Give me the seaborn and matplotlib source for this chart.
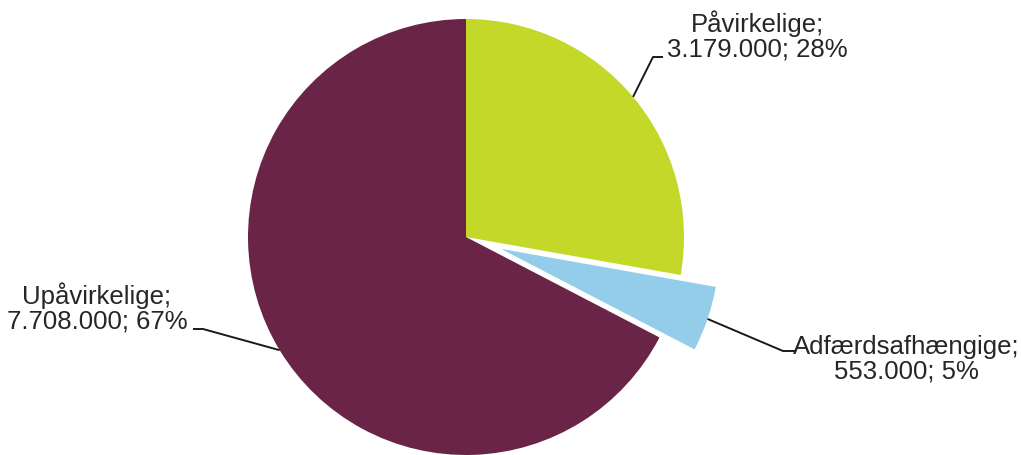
import numpy as np
import matplotlib
matplotlib.use("Agg")
import matplotlib.pyplot as plt
import seaborn as sns

# data
labels = ['Påvirkelige', 'Adfærdsafhængige', 'Upåvirkelige']
values = [3179000, 553000, 7708000]
colors = ['#c4d82a', '#93cdea', '#6a2448']
explode = [0, 0.17, 0]

sns.set_style("white")
plt.rcParams['font.family'] = ['Liberation Sans', 'DejaVu Sans']

W, H = 1021, 456
fig = plt.figure(figsize=(W / 100, H / 100), dpi=100)
ax = fig.add_axes([0, 0, 1, 1])

# pie laid out in pixel units (explode in matplotlib is in data units)
cx, cy, R = 466, H - 238, 218
wedges, _ = ax.pie(values, colors=colors, explode=[e * R for e in explode],
                   startangle=90, counterclock=False, center=(cx, cy), radius=R,
                   wedgeprops=dict(linewidth=0))
ax.set_xlim(0, W)
ax.set_ylim(0, H)
ax.set_aspect('equal')
ax.axis('off')

total = sum(values)
def fmt(v):
    return f"{v:,}".replace(",", ".")

# label placement: text centre, elbow point, horizontal end
label_pos = {
    'Påvirkelige': ((757, H - 36), (653, H - 58), (663, H - 58)),
    'Adfærdsafhængige': ((906, H - 359), (783, H - 352), (795, H - 352)),
    'Upåvirkelige': ((97, H - 308), (203, H - 330), (193, H - 330)),
}

for w, lab, v in zip(wedges, labels, values):
    mid = np.deg2rad((w.theta1 + w.theta2) / 2)
    ox, oy = w.center
    ax_pt = (ox + R * np.cos(mid), oy + R * np.sin(mid))
    (tx, ty), elbow, end = label_pos[lab]
    ax.plot([ax_pt[0], elbow[0], end[0]], [ax_pt[1], elbow[1], end[1]],
            color='#1a1a1a', lw=1.4, solid_capstyle='butt')
    pct = round(v / total * 100)
    ax.text(tx, ty, f"{lab};\n{fmt(v)}; {pct}%", ha='center', va='center',
            fontsize=18.5, color='#262626', linespacing=1.05)

fig.savefig('out.png', dpi=100, facecolor='white')
